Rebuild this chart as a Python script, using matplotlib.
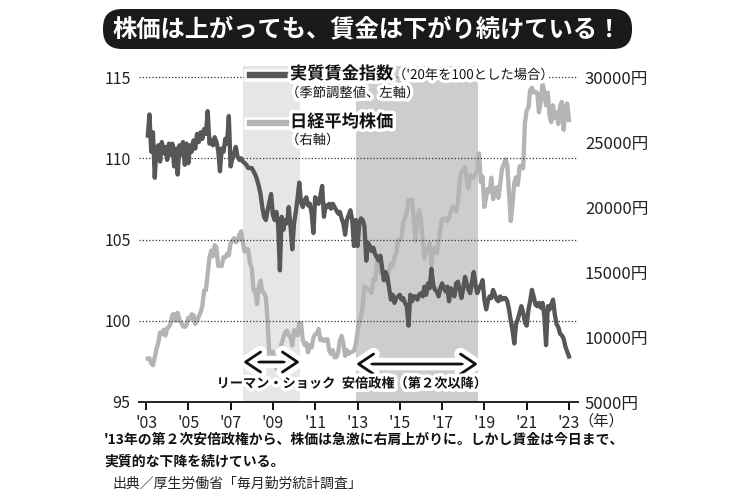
import matplotlib
matplotlib.use('Agg')
import matplotlib.pyplot as plt
import matplotlib.dates as mdates
import matplotlib.patheffects as pe
from matplotlib.patches import FancyBboxPatch
from matplotlib.lines import Line2D
import pandas as pd

plt.rcParams['font.family'] = ['Noto Sans CJK JP', 'DejaVu Sans']

# ---------------- data ----------------
start_month = '2003-01-01'
n_months = 240

# real wage index (2020 = 100, seasonally adjusted), Jan 2003 .. Dec 2022
wage_2003 = [111.4, 112.7, 110.4, 111.6, 108.8, 110.6, 110.8, 109.8, 111.0, 110.3, 110.7, 109.9]
wage_2004 = [110.9, 110.2, 110.9, 109.5, 110.6, 109.0, 110.8, 110.2, 111.0, 109.6, 110.9, 109.7]
wage_2005 = [110.8, 110.4, 111.1, 110.6, 111.5, 111.0, 111.6, 111.2, 111.8, 111.5, 112.9, 110.9]
wage_2006 = [111.1, 110.8, 111.3, 111.0, 110.5, 109.2, 110.6, 110.4, 111.2, 110.9, 112.6, 109.5]
wage_2007 = [110.0, 110.3, 110.7, 110.1, 109.9, 110.0, 109.8, 109.7, 109.6, 109.4, 109.4, 109.4]
wage_2008 = [109.2, 109.0, 108.7, 108.3, 107.8, 107.0, 106.4, 106.2, 106.8, 107.3, 107.8, 106.5]
wage_2009 = [106.2, 106.7, 105.9, 103.1, 106.4, 105.6, 106.2, 106.0, 107.0, 105.8, 104.4, 106.0]
wage_2010 = [106.7, 107.5, 108.5, 107.3, 107.0, 107.4, 107.6, 107.1, 107.2, 106.6, 105.4, 107.6]
wage_2011 = [107.3, 107.2, 107.7, 108.3, 106.4, 107.1, 107.0, 107.2, 106.9, 107.2, 107.0, 106.8]
wage_2012 = [106.6, 106.7, 106.3, 106.0, 105.3, 106.2, 106.5, 106.8, 106.2, 104.6, 106.2, 104.6]
wage_2013 = [106.0, 106.3, 106.2, 105.8, 103.7, 104.8, 104.6, 104.3, 104.5, 104.1, 103.9, 103.7]
wage_2014 = [104.0, 103.3, 102.5, 103.0, 102.7, 102.0, 101.3, 101.6, 101.1, 101.4, 101.5, 101.6]
wage_2015 = [101.3, 101.4, 101.1, 100.9, 99.7, 101.6, 101.2, 101.5, 101.5, 101.3, 101.6, 101.7]
wage_2016 = [101.5, 102.1, 101.6, 102.3, 102.0, 103.2, 102.2, 101.9, 101.8, 101.5, 102.0, 102.3]
wage_2017 = [102.0, 101.8, 102.1, 101.2, 102.0, 101.8, 101.5, 102.3, 102.4, 101.9, 101.4, 102.0]
wage_2018 = [102.7, 102.3, 101.9, 101.7, 102.4, 103.0, 102.2, 101.7, 102.0, 102.2, 102.5, 101.3]
wage_2019 = [100.7, 101.2, 101.5, 101.4, 101.9, 101.6, 101.3, 101.2, 101.5, 101.3, 101.4, 101.4]
wage_2020 = [101.2, 100.7, 100.0, 99.4, 98.6, 99.8, 100.1, 100.5, 100.9, 100.5, 99.9, 99.7]
wage_2021 = [100.7, 101.2, 101.9, 101.5, 101.0, 100.9, 101.1, 100.8, 101.1, 100.3, 98.5, 100.9]
wage_2022 = [100.7, 101.0, 101.3, 100.4, 99.8, 99.6, 99.2, 99.1, 98.9, 98.4, 98.1, 97.8]

# Nikkei 225 (month end, yen), Jan 2003 .. Dec 2022
nikkei_2003 = [8340, 8363, 7973, 7831, 8425, 9083, 9563, 10344, 10219, 10560, 10101, 10677]
nikkei_2004 = [10784, 11042, 11715, 11762, 11236, 11859, 11326, 11082, 10824, 10771, 10899, 11489]
nikkei_2005 = [11388, 11741, 11669, 11009, 11277, 11584, 11900, 12414, 13574, 13607, 14872, 16111]
nikkei_2006 = [16650, 16205, 17060, 16906, 15467, 15505, 15457, 16141, 16128, 16399, 16274, 17226]
nikkei_2007 = [17383, 17604, 17288, 17400, 17876, 18138, 17249, 16569, 16786, 16737, 15681, 15308]
nikkei_2008 = [13592, 13603, 12526, 13850, 14338, 13481, 13377, 13073, 11260, 8577, 8512, 8860]
nikkei_2009 = [7994, 7568, 8110, 8828, 9523, 9958, 10357, 10493, 10133, 10035, 9346, 10546]
nikkei_2010 = [10198, 10126, 11090, 11057, 9769, 9383, 9537, 8824, 9369, 9202, 9937, 10229]
nikkei_2011 = [10238, 10624, 9755, 9850, 9694, 9816, 9833, 8955, 8700, 8988, 8435, 8455]
nikkei_2012 = [8803, 9723, 10084, 9521, 8543, 9007, 8695, 8840, 8870, 8928, 9446, 10395]
nikkei_2013 = [11139, 11559, 12398, 13861, 13775, 13677, 13668, 13389, 14456, 14328, 15662, 16291]
nikkei_2014 = [14915, 14841, 14828, 14304, 14632, 15162, 15621, 15425, 16174, 16414, 17460, 17451]
nikkei_2015 = [17674, 18798, 19207, 19520, 20563, 20236, 20585, 18890, 17388, 19083, 19747, 19034]
nikkei_2016 = [17518, 16027, 16759, 16666, 17235, 15576, 16569, 16887, 16450, 17425, 18308, 19114]
nikkei_2017 = [19041, 19119, 18909, 19197, 19651, 20033, 19925, 19646, 20356, 22012, 22725, 22765]
nikkei_2018 = [23098, 22068, 21454, 22468, 22202, 22305, 22554, 22865, 24120, 21920, 22351, 20015]
nikkei_2019 = [20773, 21385, 21206, 22259, 20601, 21276, 21522, 20704, 21756, 22927, 23294, 23657]
nikkei_2020 = [23205, 21143, 18917, 20194, 21878, 22288, 21710, 23140, 23185, 22977, 26434, 27444]
nikkei_2021 = [27663, 28966, 29179, 28813, 28860, 28792, 27284, 28090, 29453, 28893, 27822, 28792]
nikkei_2022 = [27002, 26527, 27821, 26848, 27280, 26393, 27802, 28092, 25937, 27587, 27969, 26695]

wage = (wage_2003 + wage_2004 + wage_2005 + wage_2006 + wage_2007 + wage_2008 + wage_2009
        + wage_2010 + wage_2011 + wage_2012 + wage_2013 + wage_2014 + wage_2015 + wage_2016
        + wage_2017 + wage_2018 + wage_2019 + wage_2020 + wage_2021 + wage_2022)
nikkei = (nikkei_2003 + nikkei_2004 + nikkei_2005 + nikkei_2006 + nikkei_2007 + nikkei_2008
          + nikkei_2009 + nikkei_2010 + nikkei_2011 + nikkei_2012 + nikkei_2013 + nikkei_2014
          + nikkei_2015 + nikkei_2016 + nikkei_2017 + nikkei_2018 + nikkei_2019 + nikkei_2020
          + nikkei_2021 + nikkei_2022)

lehman_span = ('2007-08-03', '2010-04-12')
abe_span = ('2012-12-06', '2018-09-12')

left_ticks = [95, 100, 105, 110, 115]
right_ticks = [5000, 10000, 15000, 20000, 25000, 30000]
right_tick_labels = ['5000円', '10000円', '15000円', '20000円', '25000円', '30000円']
year_ticks = list(range(2003, 2024, 2))
year_tick_labels = ["'03", "'05", "'07", "'09", "'11", "'13", "'15", "'17", "'19", "'21", "'23"]

title = '株価は上がっても、賃金は下がり続けている！'
legend_wage = '実質賃金指数'
legend_wage_note = '（\'20年を100とした場合）'
legend_wage_note2 = '（季節調整値、左軸）'
legend_nikkei = '日経平均株価'
legend_nikkei_note = '（右軸）'
label_lehman = 'リーマン・ショック'
label_abe = '安倍政権（第２次以降）'
caption1 = '\'13年の第２次安倍政権から、株価は急激に右肩上がりに。しかし賃金は今日まで、'
caption2 = '実質的な下降を続けている。'
source = '出典／厚生労働省「毎月勤労統計調査」'

# ---------------- styling ----------------
DARK = '#575757'
LIGHT = '#b4b4b4'
SHADE_L = '#e6e6e6'
SHADE_D = '#cdcdcd'
halo = [pe.withStroke(linewidth=5, foreground='white')]

months = pd.date_range(start_month, periods=n_months, freq='MS') + pd.offsets.MonthEnd(0)
x = mdates.date2num(months.to_pydatetime())

W, H = 750, 500
fig = plt.figure(figsize=(7.5, 5), dpi=100)
fig.patch.set_facecolor('white')

def fx(px):
    return px / W

def fy(py):
    return 1 - py / H

ax = fig.add_axes([fx(139), fy(402), fx(578) - fx(139), fy(66) - fy(402)])
ax2 = ax.twinx()

# bottom axes: Nikkei (right scale), shading
ax.set_ylim(5000, 30850)
ax.axvspan(mdates.date2num(pd.Timestamp(lehman_span[0])), mdates.date2num(pd.Timestamp(lehman_span[1])),
           color=SHADE_L, lw=0, zorder=0)
ax.axvspan(mdates.date2num(pd.Timestamp(abe_span[0])), mdates.date2num(pd.Timestamp(abe_span[1])),
           color=SHADE_D, lw=0, zorder=0)
ax.plot(x, nikkei, color=LIGHT, lw=3.1, solid_joinstyle='round', zorder=2)
ax.yaxis.tick_right()
ax.set_yticks(right_ticks)
ax.set_yticklabels(right_tick_labels)
ax.tick_params(axis='y', length=0, pad=5, labelsize=12, labelcolor='#222222')

# top axes: wage (left scale)
ax2.set_ylim(95, 115.68)
ax2.yaxis.tick_left()
ax2.set_yticks(left_ticks)
ax2.tick_params(axis='y', length=0, pad=6, labelsize=11.5, labelcolor='#222222')
for v in left_ticks[1:]:
    ax2.axhline(v, color='#333333', lw=0.9, ls=(0, (1, 1.6)), zorder=1)
ax2.plot(x, wage, color=DARK, lw=3.1, solid_joinstyle='round', zorder=3)

xmin = mdates.date2num(pd.Timestamp('2002-09-01'))
xmax = mdates.date2num(pd.Timestamp('2023-06-05'))
ax.set_xlim(xmin, xmax)
ax2.set_xlim(xmin, xmax)
ax.set_xticks([mdates.date2num(pd.Timestamp(f'{y}-01-01')) for y in year_ticks])
ax.set_xticklabels(year_tick_labels)
ax.tick_params(axis='x', direction='out', length=6, width=1.3, pad=3, labelsize=11.5, labelcolor='#222222')

for s in ['left', 'right', 'top']:
    ax.spines[s].set_visible(False)
    ax2.spines[s].set_visible(False)
ax2.spines['bottom'].set_visible(False)
ax.spines['bottom'].set_linewidth(1.4)
ax.spines['bottom'].set_color('#222222')

# arrows + labels
arrow_halo = [pe.withStroke(linewidth=9, foreground='white')]
for span, yfrac, label, shift_days in [(lehman_span, 0.119, label_lehman, 80),
                                       (abe_span, 0.113, label_abe, -40)]:
    a = mdates.date2num(pd.Timestamp(span[0]))
    b = mdates.date2num(pd.Timestamp(span[1]))
    ax2.annotate('', xy=(b, yfrac), xytext=(a, yfrac),
                 xycoords=('data', 'axes fraction'), textcoords=('data', 'axes fraction'),
                 arrowprops=dict(arrowstyle='<->,head_length=0.6,head_width=0.4', lw=2.0,
                                 color='#111111', shrinkA=0, shrinkB=0, mutation_scale=18,
                                 path_effects=arrow_halo),
                 zorder=6)
    ax2.text((a + b) / 2 + shift_days, 0.055, label, transform=ax2.get_xaxis_transform(),
             ha='center', va='center', fontsize=9.5, fontweight='bold', color='#111111',
             path_effects=halo, zorder=7)

# legend (manual keys)
for yk, col in [(75, DARK), (123, LIGHT)]:
    fig.add_artist(Line2D([fx(250), fx(287)], [fy(yk), fy(yk)], color=col, lw=4.6,
                          path_effects=[pe.withStroke(linewidth=9, foreground='white')], zorder=5))
fig.text(fx(290), fy(74), legend_wage, fontsize=12.4, fontweight='bold', va='center', ha='left',
         color='#111111', path_effects=halo, zorder=6)
fig.text(fx(393), fy(75), legend_wage_note, fontsize=9.6, va='center', ha='left',
         color='#111111', path_effects=halo, zorder=6)
fig.text(fx(286), fy(93), legend_wage_note2, fontsize=9.6, va='center', ha='left',
         color='#111111', path_effects=halo, zorder=6)
fig.text(fx(290), fy(122), legend_nikkei, fontsize=12.4, fontweight='bold', va='center', ha='left',
         color='#111111', path_effects=halo, zorder=6)
fig.text(fx(286), fy(140), legend_nikkei_note, fontsize=9.6, va='center', ha='left',
         color='#111111', path_effects=halo, zorder=6)

# year unit
fig.text(fx(578), fy(421), '（年）', fontsize=11, va='center', ha='left', color='#222222')

# title banner
banner = FancyBboxPatch((1.03, (H - 49) / 100), 5.29, 0.40,
                        boxstyle='round,pad=0,rounding_size=0.19',
                        transform=fig.dpi_scale_trans, facecolor='#1a1a1a', edgecolor='none', zorder=1)
fig.add_artist(banner)
fig.text(fx(367), fy(29), title, fontsize=17.5, fontweight='bold', color='white',
         ha='center', va='center', zorder=2)

# captions
fig.text(fx(104), fy(440), caption1, fontsize=10, fontweight='bold', ha='left', va='center', color='#111111')
fig.text(fx(104), fy(462), caption2, fontsize=10, fontweight='bold', ha='left', va='center', color='#111111')
fig.text(fx(112), fy(484), source, fontsize=10, ha='left', va='center', color='#222222')

fig.savefig('out.png', dpi=100, facecolor='white')
